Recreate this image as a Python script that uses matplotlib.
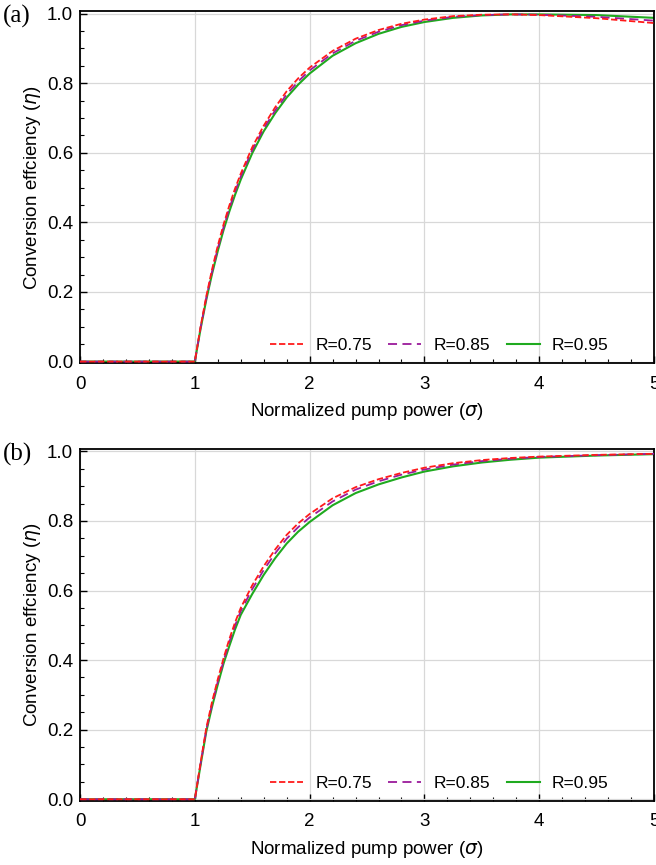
import matplotlib
matplotlib.use("Agg")
import matplotlib.pyplot as plt
from matplotlib.ticker import MultipleLocator

# pump power (sigma) sample points
sigma = [0.0, 1.0, 1.05, 1.1, 1.15, 1.2, 1.25, 1.3, 1.35, 1.4, 1.5, 1.6, 1.7,
         1.8, 1.9, 2.0, 2.2, 2.4, 2.6, 2.8, 3.0, 3.25, 3.5, 3.75, 4.0, 4.5, 5.0]

# panel (a)
eta_a_075 = [0.0, 0.0, 0.100, 0.188, 0.265, 0.333, 0.394, 0.448, 0.497, 0.540,
             0.616, 0.678, 0.731, 0.777, 0.814, 0.845, 0.893, 0.928, 0.953,
             0.971, 0.983, 0.993, 0.997, 0.998, 0.996, 0.987, 0.973]
eta_a_085 = [0.0, 0.0, 0.097, 0.183, 0.258, 0.325, 0.386, 0.440, 0.488, 0.532,
             0.608, 0.670, 0.722, 0.768, 0.805, 0.837, 0.886, 0.922, 0.948,
             0.967, 0.980, 0.991, 0.996, 0.998, 0.997, 0.991, 0.980]
eta_a_095 = [0.0, 0.0, 0.094, 0.178, 0.252, 0.318, 0.378, 0.431, 0.479, 0.523,
             0.599, 0.662, 0.714, 0.759, 0.796, 0.828, 0.879, 0.915, 0.942,
             0.962, 0.976, 0.988, 0.995, 0.998, 0.998, 0.996, 0.988]

# panel (b)
eta_b_075 = [0.0, 0.0, 0.105, 0.205, 0.280, 0.345, 0.405, 0.460, 0.508, 0.550,
             0.615, 0.670, 0.718, 0.760, 0.793, 0.820, 0.865, 0.897, 0.920,
             0.938, 0.953, 0.966, 0.975, 0.981, 0.985, 0.990, 0.993]
eta_b_085 = [0.0, 0.0, 0.102, 0.200, 0.273, 0.338, 0.397, 0.452, 0.499, 0.541,
             0.604, 0.659, 0.707, 0.749, 0.782, 0.810, 0.856, 0.890, 0.914,
             0.933, 0.948, 0.962, 0.972, 0.979, 0.984, 0.989, 0.993]
eta_b_095 = [0.0, 0.0, 0.098, 0.195, 0.266, 0.330, 0.390, 0.440, 0.488, 0.530,
             0.590, 0.645, 0.693, 0.735, 0.769, 0.797, 0.845, 0.880, 0.905,
             0.925, 0.942, 0.957, 0.968, 0.976, 0.982, 0.988, 0.992]

labels = ["R=0.75", "R=0.85", "R=0.95"]
panels = ["(a)", "(b)"]

plt.rcParams["font.family"] = ["Liberation Sans", "DejaVu Sans"]
plt.rcParams["mathtext.fontset"] = "dejavusans"

fig = plt.figure(figsize=(6.56, 8.65), dpi=100)
ax_a = fig.add_axes([0.122, 0.580, 0.875, 0.407])
ax_b = fig.add_axes([0.122, 0.074, 0.875, 0.407])

data = [(eta_a_075, eta_a_085, eta_a_095), (eta_b_075, eta_b_085, eta_b_095)]

for ax, series, tag in zip([ax_a, ax_b], data, panels):
    ax.plot(sigma, series[0], color="#ff1a1a", lw=1.3, ls=(0, (3.5, 1.5)),
            label=labels[0], zorder=4)
    ax.plot(sigma, series[1], color="#9b1a9b", lw=1.3, ls=(0, (5, 3)),
            label=labels[1], zorder=3)
    ax.plot(sigma, series[2], color="#1faa1f", lw=1.5, ls="-",
            label=labels[2], zorder=2)

    ax.set_xlim(0, 5)
    ax.set_ylim(-0.005, 1.007)
    ax.xaxis.set_major_locator(MultipleLocator(1))
    ax.xaxis.set_minor_locator(MultipleLocator(0.2))
    ax.yaxis.set_major_locator(MultipleLocator(0.2))
    ax.yaxis.set_minor_locator(MultipleLocator(0.05))
    ax.tick_params(which="both", direction="in", labelsize=13.5, top=False, right=False)
    ax.tick_params(which="major", length=5, width=1.0, pad=5)
    ax.tick_params(axis="x", which="major", pad=9)
    ax.tick_params(which="minor", length=3, width=0.8)
    ax.grid(True, which="major", color="#d8d8d8", lw=0.9)
    for s in ax.spines.values():
        s.set_linewidth(1.3)
    ax.set_axisbelow(True)

    ax.set_xlabel(r"Normalized pump power ($\sigma$)", fontsize=13.5, labelpad=6)
    ax.set_ylabel(r"Conversion effciency ($\eta$)", fontsize=13.5, labelpad=3)
    ax.text(-0.134, 0.985, tag, transform=ax.transAxes, fontsize=18,
            family=["Liberation Serif", "DejaVu Serif"], va="center", ha="left")

    ax.legend(loc="center right", ncol=3, frameon=False, fontsize=12.5,
              handlelength=1.9, columnspacing=0.95, handletextpad=0.7,
              bbox_to_anchor=(0.948, 0.05))

fig.savefig("out.png", dpi=100)
